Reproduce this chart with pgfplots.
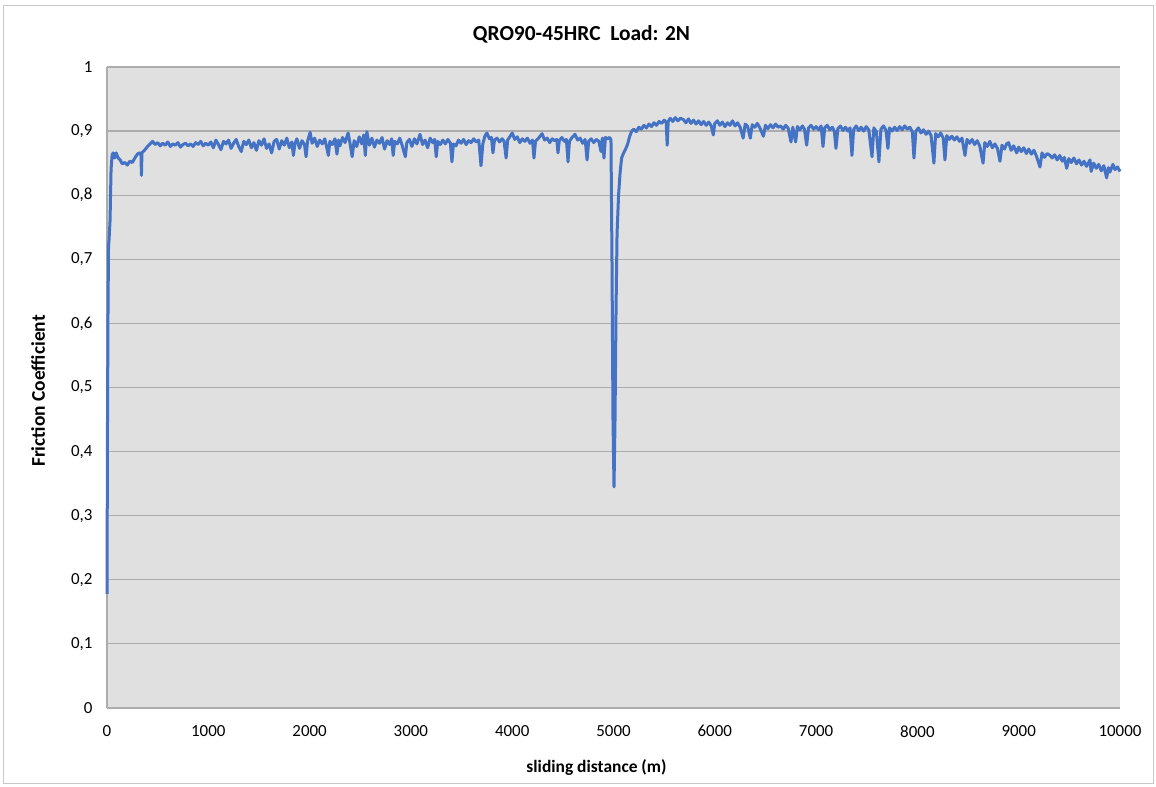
\documentclass[border=0pt]{standalone}
\usepackage{pgfplots}
\pgfplotsset{compat=1.18}
\usepackage{fontspec}
\setmainfont{Carlito}
\definecolor{lineblue}{HTML}{4472C4}
\definecolor{plotbg}{RGB}{224,224,224}
\definecolor{gridc}{RGB}{172,172,172}
\definecolor{framec}{RGB}{200,200,200}
\begin{document}
\begin{tikzpicture}[x=1bp,y=1bp]
\useasboundingbox (0,0) rectangle (1156,787);
\draw[framec, line width=1bp] (3,3) rectangle (1153,781);
\begin{axis}[
  at={(107bp,79bp)}, anchor=south west,
  scale only axis, width=1013bp, height=641bp,
  xmin=0, xmax=10000, ymin=0, ymax=1,
  xtick={0,1000,...,10000},
  ytick={0,0.1,...,1.01},
  scaled x ticks=false,
  axis background/.style={fill=plotbg},
  axis line style={draw=gridc, line width=1.2bp},
  axis x line*=bottom, axis y line*=left,
  major tick length=0pt,
  ymajorgrids, grid style={gridc, line width=1.2bp},
  /pgf/number format/assume math mode=true,
  xticklabel style={/pgf/number format/1000 sep={}, font=\fontsize{17}{20}\selectfont, yshift=-14bp},
  yticklabel style={/pgf/number format/use comma, /pgf/number format/fixed, /pgf/number format/precision=1, font=\fontsize{17}{20}\selectfont, xshift=-11bp},
  title={QRO90-45HRC\ \ Load: 2N},
  title style={at={(rel axis cs:0.4684,1.041)}, anchor=center, font=\fontsize{21.5}{25}\selectfont\bfseries},
  xlabel={sliding distance (m)},
  xlabel style={at={(rel axis cs:0.4832,-0.0936)}, anchor=center, font=\fontsize{17.5}{21}\selectfont\bfseries},
  ylabel={Friction Coefficient},
  ylabel style={at={(rel axis cs:-0.0681,0.4945)}, anchor=center, font=\fontsize{19.5}{23}\selectfont\bfseries},
  clip=false,
]
\addplot[lineblue, line width=3bp, line join=round] coordinates {
(0,0.178)(5,0.45)(10,0.62)(15,0.72)(20,0.73)(30,0.76)(40,0.84)(50,0.862)(60,0.866)(75,0.858)(90,0.866)(110,0.858)(130,0.855)(150,0.849)(175,0.851)(200,0.847)(225,0.853)(250,0.851)(275,0.858)(300,0.864)(320,0.866)(335,0.865)(340,0.831)(345,0.866)(370,0.870)(400,0.876)(425,0.880)(450,0.884)(475,0.879)(500,0.882)
(525,0.877)(550,0.881)(575,0.878)(600,0.883)(625,0.876)(650,0.880)(675,0.878)(700,0.882)(725,0.875)(750,0.879)(775,0.881)(800,0.877)(825,0.880)(850,0.876)(875,0.882)(900,0.879)(925,0.884)(950,0.877)(975,0.881)(1000,0.878)
(1025,0.883)(1050,0.874)(1075,0.886)(1100,0.879)(1125,0.871)(1150,0.884)(1175,0.880)(1200,0.886)(1225,0.873)(1250,0.881)(1275,0.887)(1300,0.876)(1325,0.868)(1350,0.884)(1375,0.879)(1400,0.886)(1425,0.874)(1450,0.882)(1475,0.870)(1500,0.885)(1525,0.878)(1550,0.888)(1575,0.873)(1600,0.880)(1625,0.866)(1650,0.884)(1675,0.887)
(1700,0.872)(1725,0.885)(1750,0.878)(1775,0.889)(1800,0.874)(1825,0.883)(1840,0.862)(1855,0.880)(1875,0.888)(1900,0.873)(1925,0.885)(1950,0.879)(1965,0.860)(1980,0.884)(2005,0.898)(2025,0.881)(2050,0.889)(2075,0.876)(2100,0.886)(2125,0.880)(2150,0.888)(2170,0.874)(2185,0.862)(2200,0.884)(2225,0.879)(2250,0.888)(2270,0.864)(2285,0.886)(2300,0.877)(2325,0.890)(2350,0.882)(2380,0.897)(2400,0.880)(2420,0.860)(2440,0.885)(2465,0.876)(2490,0.891)(2515,0.880)(2535,0.894)(2550,0.862)(2565,0.899)(2590,0.878)(2615,0.889)(2640,0.875)(2665,0.886)(2690,0.881)(2715,0.890)(2740,0.872)(2765,0.885)(2790,0.879)(2810,0.888)(2825,0.862)(2840,0.884)(2865,0.880)(2890,0.889)(2915,0.877)(2945,0.860)(2960,0.882)(2985,0.887)(3010,0.876)(3035,0.888)(3060,0.880)(3090,0.895)(3115,0.879)(3140,0.886)(3165,0.874)(3190,0.889)(3215,0.882)(3235,0.887)(3250,0.860)(3265,0.884)
(3290,0.879)(3315,0.886)(3340,0.880)(3365,0.887)(3390,0.881)(3405,0.852)(3420,0.880)(3445,0.877)(3470,0.886)(3495,0.881)(3520,0.887)(3545,0.879)(3570,0.885)(3595,0.882)(3620,0.888)(3645,0.883)(3670,0.886)(3692,0.846)(3710,0.880)(3730,0.892)(3750,0.897)(3775,0.888)(3795,0.890)(3810,0.866)(3825,0.886)(3850,0.889)(3875,0.883)(3900,0.888)(3920,0.884)(3940,0.858)(3955,0.886)(3980,0.892)(4000,0.897)(4025,0.887)(4050,0.891)(4075,0.882)(4100,0.888)(4125,0.884)(4150,0.889)(4175,0.881)(4200,0.886)(4215,0.858)(4230,0.884)(4255,0.888)(4275,0.892)(4295,0.896)(4320,0.886)(4345,0.889)(4370,0.882)(4395,0.888)(4420,0.885)(4440,0.887)(4452,0.866)(4465,0.885)(4490,0.890)(4515,0.884)(4535,0.887)(4551,0.852)(4565,0.884)(4590,0.890)(4620,0.895)(4645,0.886)(4670,0.889)(4695,0.881)(4720,0.887)(4739,0.855)(4755,0.884)(4780,0.888)(4805,0.882)(4830,0.887)(4855,0.884)(4877,0.868)(4890,0.889)(4906,0.858)(4920,0.890)(4940,0.888)(4960,0.890)(4975,0.887)
(4985,0.70)(4995,0.45)(5005,0.345)(5015,0.45)(5025,0.62)(5035,0.74)(5050,0.80)(5065,0.835)(5080,0.858)(5100,0.866)(5120,0.872)(5140,0.880)(5160,0.892)(5180,0.900)(5200,0.903)(5225,0.899)(5250,0.906)(5275,0.903)(5300,0.909)(5325,0.905)(5350,0.911)(5375,0.907)(5400,0.913)(5425,0.909)(5450,0.915)(5475,0.912)(5500,0.917)(5520,0.914)(5530,0.878)(5540,0.915)(5560,0.920)(5585,0.915)(5610,0.921)(5635,0.916)(5660,0.920)(5690,0.918)(5715,0.913)(5740,0.919)(5765,0.912)(5790,0.917)(5815,0.911)(5840,0.916)(5865,0.910)(5890,0.915)(5915,0.909)(5940,0.914)(5965,0.908)(5985,0.894)(6000,0.912)(6025,0.916)(6050,0.909)(6075,0.914)(6100,0.907)(6125,0.913)(6150,0.909)(6175,0.916)(6200,0.908)(6225,0.913)(6250,0.906)(6280,0.889)(6300,0.911)(6325,0.907)(6350,0.889)(6370,0.910)(6395,0.906)(6420,0.912)(6445,0.905)(6480,0.892)(6500,0.909)(6525,0.904)(6550,0.910)(6575,0.905)(6600,0.911)(6625,0.906)(6650,0.908)(6675,0.903)(6700,0.909)(6725,0.904)(6752,0.883)(6770,0.906)(6798,0.883)(6815,0.907)(6840,0.902)(6865,0.908)(6885,0.903)(6907,0.878)(6925,0.905)(6950,0.909)(6975,0.903)(7000,0.907)(7025,0.902)(7050,0.908)(7068,0.876)(7085,0.905)(7110,0.909)(7135,0.902)(7160,0.906)(7180,0.900)(7196,0.873)(7215,0.904)(7240,0.908)(7265,0.901)(7290,0.906)(7315,0.900)(7335,0.905)(7354,0.862)(7370,0.902)(7395,0.908)(7420,0.901)(7445,0.906)(7470,0.900)(7495,0.907)(7520,0.902)(7552,0.860)(7570,0.905)(7595,0.899)(7620,0.852)(7640,0.903)(7665,0.908)(7690,0.901)(7709,0.873)(7725,0.905)(7750,0.900)(7775,0.906)(7800,0.901)(7825,0.907)(7850,0.902)(7875,0.908)(7900,0.903)(7925,0.906)(7950,0.899)(7966,0.858)(7985,0.900)(8010,0.905)(8035,0.897)(8060,0.902)(8085,0.895)(8110,0.900)(8135,0.893)(8163,0.850)(8180,0.896)(8205,0.891)(8230,0.897)(8255,0.889)(8272,0.855)(8290,0.893)(8315,0.887)(8340,0.892)(8365,0.886)(8390,0.891)(8415,0.884)(8440,0.889)(8470,0.862)(8490,0.887)(8515,0.881)(8540,0.887)(8565,0.879)(8590,0.885)(8615,0.877)(8648,0.850)(8665,0.882)(8690,0.876)(8715,0.884)(8740,0.874)(8765,0.880)(8790,0.873)(8815,0.853)(8835,0.878)(8860,0.872)(8880,0.880)(8900,0.882)(8925,0.870)(8950,0.877)(8980,0.866)(9000,0.875)(9025,0.868)(9050,0.874)(9075,0.865)(9100,0.872)(9125,0.864)(9150,0.870)(9175,0.861)(9210,0.844)(9230,0.866)(9255,0.859)(9280,0.865)(9309,0.862)(9330,0.858)(9355,0.863)(9380,0.855)(9405,0.862)(9430,0.853)(9450,0.859)(9474,0.842)(9495,0.857)(9520,0.851)(9545,0.858)(9570,0.849)(9595,0.855)(9620,0.847)(9645,0.853)(9670,0.845)(9704,0.855)(9715,0.837)(9740,0.850)(9765,0.842)(9790,0.848)(9815,0.838)(9840,0.846)(9868,0.827)(9885,0.843)(9900,0.836)(9930,0.848)(9950,0.840)(9975,0.844)(10000,0.837)
};
\end{axis}
\end{tikzpicture}
\end{document}
